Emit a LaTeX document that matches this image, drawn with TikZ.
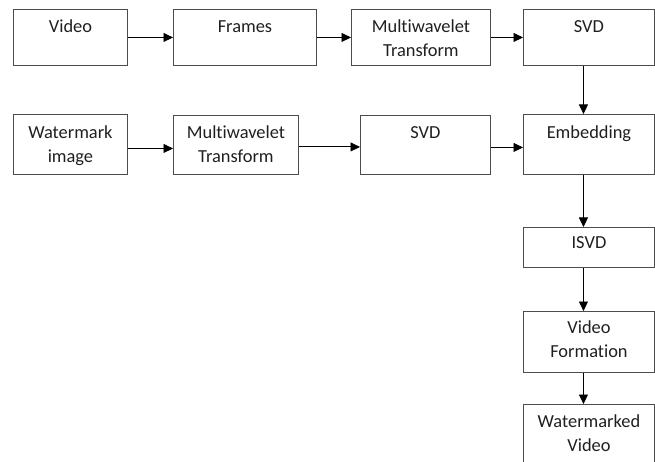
\documentclass[tikz,border=0pt]{standalone}
\usepackage{fontspec}
\setmainfont{Carlito}[Ligatures=NoCommon]
\usetikzlibrary{arrows.meta}
\begin{document}
\begin{tikzpicture}
[x=1pt,y=-1pt,
  boxDecorate/.style={shape=rectangle,draw=black!70,line width=0.9pt,
    anchor=north west,inner sep=0pt,align=center,text=black!88,
    font=\fontsize{18.4}{24}\selectfont},
  arrowDecorate/.style={-{Triangle[length=9.5pt,width=9pt]},line width=0.9pt},
  scale=1]
\useasboundingbox (0,0) rectangle (655,462);
%% boxes
\foreach \nodename/\x/\y/\w/\b/\d/\txt in {
  video/13/9/114/23.5/32.5/Video,
  frames/173/9/143/23.5/32.5/Frames,
  mwtA/351/9/139/23.5/32.5/{Multiwavelet\\Transform},
  svdA/523/9/131/23.5/32.5/SVD,
  wmImage/13/114/114/24/36/{Watermark\\image},
  mwtB/173/115/125/23.5/35.5/{Multiwavelet\\Transform},
  svdB/360/115/130/23.5/35.5/SVD,
  embed/523/114/131/24/36/Embedding,
  isvd/523/227/131/21/19/ISVD,
  vidForm/523/311/131/22/39/{Video\\Formation},
  wmVideo/523/404/131/23/47/{Watermarked\\Video}}
{
  \node (\nodename) at (\x,\y) [boxDecorate,text width=\w pt,
    text height=\b pt,text depth=\d pt] {\txt};
}
%% arrows
\path
\foreach \startnode/\endnode in {video/frames, frames/mwtA, mwtA/svdA}
{
  (\startnode) edge[arrowDecorate] (\endnode)
};
\path
\foreach \startnode/\endnode/\dy in {wmImage/mwtB/-4, mwtB/svdB/-2, svdB/embed/-2.5}
{
  ([yshift=\dy pt]\startnode.east) edge[arrowDecorate]
    ([yshift=\dy pt]\startnode.east -| \endnode.west)
};
\path
\foreach \startnode/\endnode in {svdA/embed, embed/isvd, isvd/vidForm, vidForm/wmVideo}
{
  ([xshift=-5.5pt]\startnode.south) edge[arrowDecorate] ([xshift=-5.5pt]\endnode.north)
};
\end{tikzpicture}
\end{document}
